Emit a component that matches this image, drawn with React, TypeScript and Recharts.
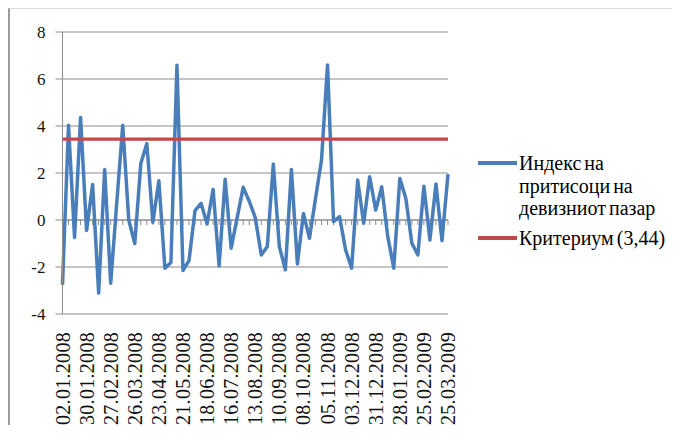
import React from "react";
import { LineChart, Line, XAxis, YAxis, CartesianGrid, ReferenceLine, Legend } from "recharts";

const dates = [
  "02.01.2008", "09.01.2008", "16.01.2008", "23.01.2008", "30.01.2008", "06.02.2008", "13.02.2008", "20.02.2008",
  "27.02.2008", "05.03.2008", "12.03.2008", "19.03.2008", "26.03.2008", "02.04.2008", "09.04.2008", "16.04.2008",
  "23.04.2008", "30.04.2008", "07.05.2008", "14.05.2008", "21.05.2008", "28.05.2008", "04.06.2008", "11.06.2008",
  "18.06.2008", "25.06.2008", "02.07.2008", "09.07.2008", "16.07.2008", "23.07.2008", "30.07.2008", "06.08.2008",
  "13.08.2008", "20.08.2008", "27.08.2008", "03.09.2008", "10.09.2008", "17.09.2008", "24.09.2008", "01.10.2008",
  "08.10.2008", "15.10.2008", "22.10.2008", "29.10.2008", "05.11.2008", "12.11.2008", "19.11.2008", "26.11.2008",
  "03.12.2008", "10.12.2008", "17.12.2008", "24.12.2008", "31.12.2008", "07.01.2009", "14.01.2009", "21.01.2009",
  "28.01.2009", "04.02.2009", "11.02.2009", "18.02.2009", "25.02.2009", "04.03.2009", "11.03.2009", "18.03.2009",
  "25.03.2009",
];

const indexValues = [
  -2.76, 4.03, -0.74, 4.36, -0.45, 1.51, -3.11, 2.15,
  -2.69, 0.7, 4.03, 0.0, -1.0, 2.4, 3.25, -0.1,
  1.67, -2.05, -1.81, 6.58, -2.15, -1.73, 0.4, 0.71,
  -0.17, 1.3, -1.95, 1.73, -1.2, 0.1, 1.39, 0.8,
  0.1, -1.49, -1.13, 2.38, -1.13, -2.12, 2.15, -1.87,
  0.28, -0.78, 0.9, 2.55, 6.6, -0.07, 0.14, -1.27,
  -2.05, 1.7, -0.14, 1.84, 0.42, 1.41, -0.71, -2.05,
  1.77, 0.92, -0.99, -1.49, 1.44, -0.85, 1.53, -0.88,
  1.95,
];

const criterionValue = 3.44;
const yTicks = [-4, -2, 0, 2, 4, 6, 8];
const indexName = "Индекс на притисоци на девизниот пазар";
const criterionName = "Критериум (3,44)";

const data = dates.map((d, i) => ({ date: d, index: indexValues[i], crit: criterionValue }));

const FONT = "Liberation Serif, DejaVu Serif, Noto Serif, serif";
const GRID = "#8c8c8c";

const XTick = (props: any) => {
  const { x, y, payload } = props;
  return (
    <text
      x={x}
      y={y}
      transform={`rotate(-90 ${x} ${y})`}
      textAnchor="end"
      dominantBaseline="central"
      style={{ fontFamily: FONT, fontSize: 20, letterSpacing: "0.3px" }}
      fill="#111"
    >
      {payload.value}
    </text>
  );
};

const ZeroAxis = (props: any) => {
  const { x1, x2, y1 } = props;
  const n = dates.length;
  const step = (x2 - x1) / (n - 1);
  return (
    <g>
      <line x1={x1} x2={x2} y1={y1} y2={y1} stroke={GRID} strokeWidth={1} />
      {dates.map((_, i) => (
        <line key={i} x1={x1 + i * step} x2={x1 + i * step} y1={y1} y2={y1 + 5} stroke={GRID} strokeWidth={1} />
      ))}
    </g>
  );
};

const LegendContent = (props: any) => {
  const payload = props.payload || [];
  return (
    <div style={{ fontFamily: FONT, fontSize: 20, lineHeight: "22.5px", color: "#000" }}>
      {payload.map((entry: any, i: number) => (
        <div key={i} style={{ display: "flex", alignItems: "flex-start", marginTop: i === 0 ? 0 : 7.5 }}>
          <div style={{ width: 39, height: 3.5, background: entry.color, marginTop: 9.25, marginRight: 2, flexShrink: 0 }} />
          <div style={{ width: 150, wordSpacing: "-2px" }}>{entry.value}</div>
        </div>
      ))}
    </div>
  );
};

export default function App() {
  return (
    <div
      style={{
        width: 662,
        height: 424,
        borderTop: "1px solid #d9d9d9",
        borderLeft: "2px solid #9a9a9a",
        marginBottom: -8,
        background: "#fff",
      }}
    >
      <LineChart width={662} height={424} data={data} margin={{ top: 23, right: 224, bottom: 10, left: 0 }}>
        <CartesianGrid vertical={false} stroke={GRID} strokeDasharray="" />
        <XAxis
          dataKey="date"
          interval={3}
          axisLine={false}
          tickLine={false}
          tickSize={0}
          tickMargin={18}
          height={109}
          tick={<XTick />}
        />
        <YAxis
          domain={[-4, 8]}
          ticks={yTicks}
          interval={0}
          width={52.5}
          axisLine={{ stroke: GRID }}
          tickLine={{ stroke: GRID }}
          tickSize={7}
          tickMargin={10}
          tick={{ style: { fontFamily: FONT }, fontSize: 17, fill: "#111" }}
        />
        <ReferenceLine y={0} shape={<ZeroAxis />} />
        <Line
          type="linear"
          dataKey="index"
          name={indexName}
          stroke="#4A7EBB"
          strokeWidth={3.5}
          dot={false}
          activeDot={false}
          isAnimationActive={false}
          strokeLinejoin="round"
        />
        <Line
          type="linear"
          dataKey="crit"
          name={criterionName}
          stroke="#BE4B48"
          strokeWidth={3.2}
          dot={false}
          activeDot={false}
          isAnimationActive={false}
        />
        <Legend
          layout="horizontal"
          align="center"
          verticalAlign="middle"
          wrapperStyle={{ left: 468, top: 143, width: 200 }}
          content={<LegendContent />}
        />
      </LineChart>
    </div>
  );
}
